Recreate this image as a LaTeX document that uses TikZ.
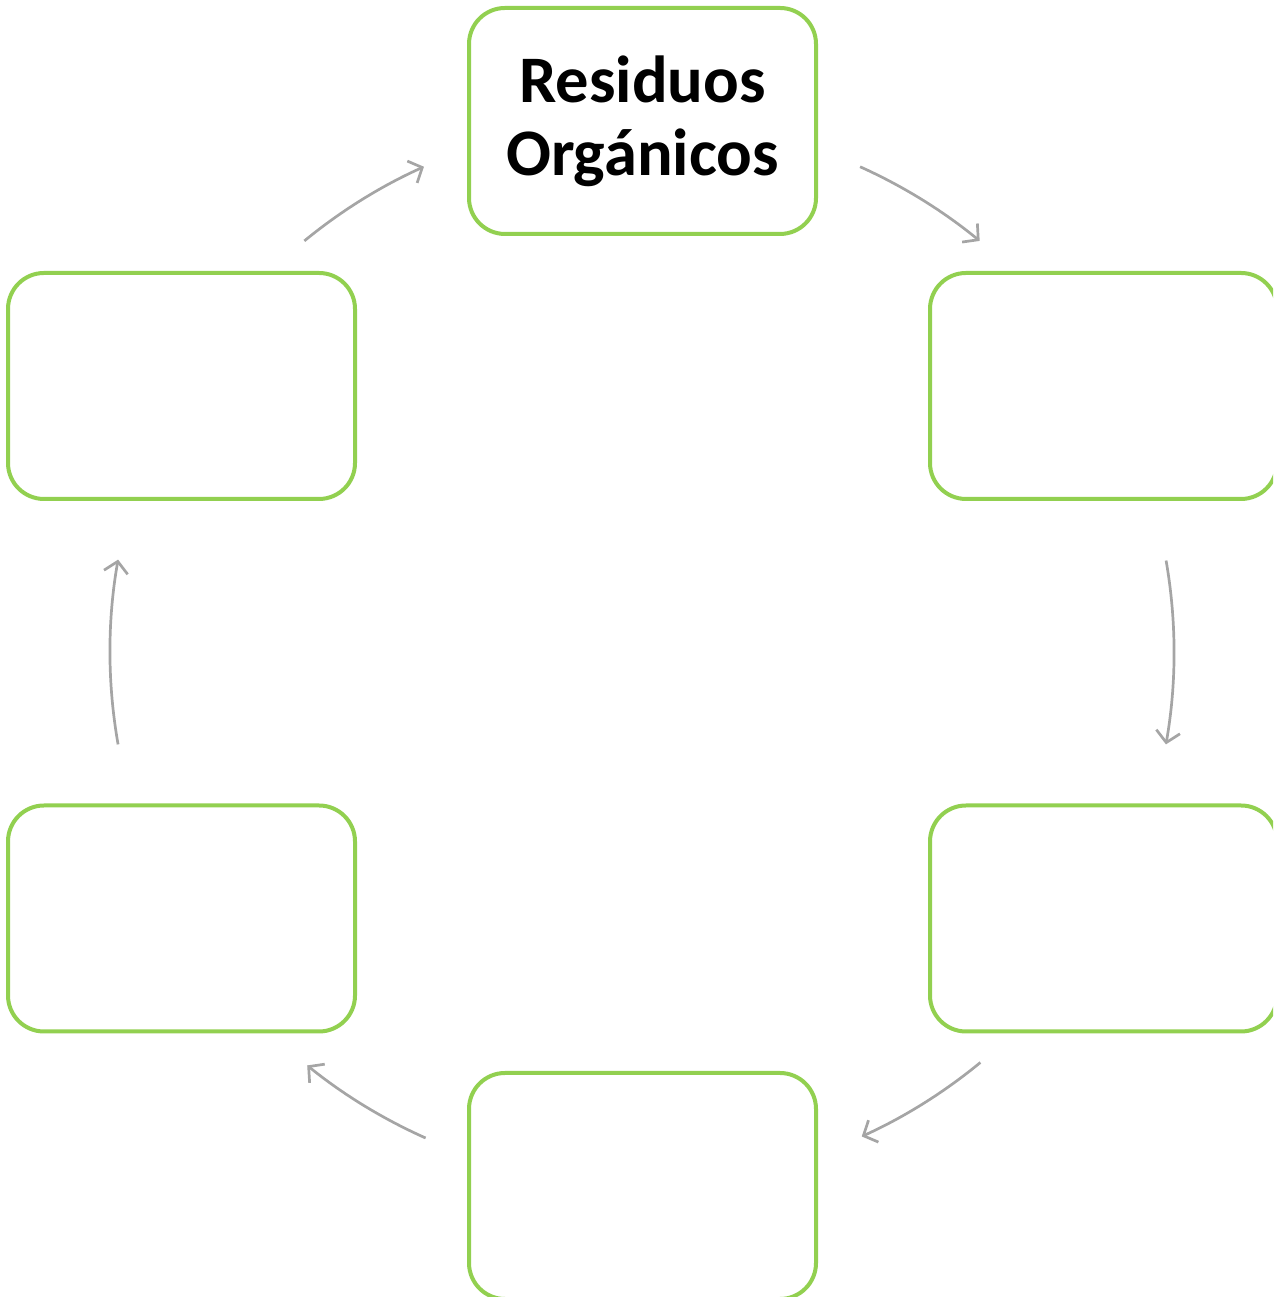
\documentclass[tikz,border=0pt]{standalone}
\usepackage{fontspec}
\setmainfont{Carlito}
\usetikzlibrary{arrows.meta,calc}
\definecolor{boxgreen}{HTML}{92D050}
\definecolor{arrowgray}{HTML}{A5A5A5}
\begin{document}
\begin{tikzpicture}[x=1pt,y=1pt,
  cyclebox/.style={draw=boxgreen, line width=4pt, rounded corners=36pt, fill=white,
    minimum width=347pt, minimum height=226pt, inner sep=0pt, align=center,
    font=\fontsize{66.5}{73}\selectfont\bfseries},
  cyclearrow/.style={draw=arrowgray, line width=2.7pt,
    -{Straight Barb[length=11pt,width=24pt,line width=2.7pt]}}]
\useasboundingbox (0,0) rectangle (1273,1297);
\clip (0,0) rectangle (1273,1297);
\coordinate (c) at (642,645);
\node[cyclebox] (top) at (642.5,1176) {Residuos\\Orgánicos};
\node[cyclebox] (rt) at (1103.5,911) {};
\node[cyclebox] (rb) at (1103.5,378.5) {};
\node[cyclebox] (bot) at (642.5,111) {};
\node[cyclebox] (lb) at (181.5,378.5) {};
\node[cyclebox] (lt) at (181.5,911) {};
\coordinate (a1) at ($(c)+(65.8:532)$);
\coordinate (a2) at ($(c)+(9.9:532)$);
\coordinate (a3) at ($(c)+(-50.5:532)$);
\coordinate (a4) at ($(c)+(-114:532)$);
\coordinate (a5) at ($(c)+(-170:532)$);
\coordinate (a6) at ($(c)+(129.4:532)$);
\draw[cyclearrow] (a1) arc[start angle=65.8, end angle=50.6, radius=532];
\draw[cyclearrow] (a2) arc[start angle=9.9, end angle=-10, radius=532];
\draw[cyclearrow] (a3) arc[start angle=-50.5, end angle=-65.6, radius=532];
\draw[cyclearrow] (a4) arc[start angle=-114, end angle=-129, radius=532];
\draw[cyclearrow] (a5) arc[start angle=-170, end angle=-190, radius=532];
\draw[cyclearrow] (a6) arc[start angle=129.4, end angle=114.2, radius=532];
\end{tikzpicture}
\end{document}
